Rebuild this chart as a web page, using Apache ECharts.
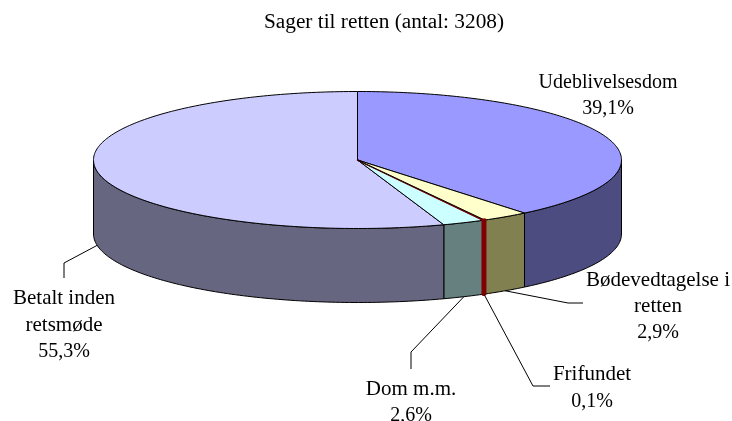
<!DOCTYPE html>
<html>
<head>
<meta charset="utf-8">
<title>Sager til retten</title>
<style>
  html, body { margin: 0; padding: 0; background: #fff; }
  #chart { width: 732px; height: 421px; }
</style>
</head>
<body>
<div id="chart"></div>
<script src="https://cdn.jsdelivr.net/npm/echarts@6/dist/echarts.min.js"></script>
<script>
const categories = ['Udeblivelsesdom', 'Bødevedtagelse i\nretten', 'Frifundet', 'Dom m.m.', 'Betalt inden\nretsmøde']
const shares = [39.1, 2.9, 0.1, 2.6, 55.3]
const shareLabels = ['39,1%', '2,9%', '0,1%', '2,6%', '55,3%']

const topColors = ['#9999ff', '#ffffcc', '#800000', '#ccffff', '#ccccff']
const sideColors = ['#4c4c80', '#808050', '#800000', '#668080', '#666680']
// the 0,1% slice is too thin for a black edge, it is drawn as a red band instead
const edgeColors = ['#000', '#000', '#800000', '#000', '#000']
const wallWidths = [1, 1, 3.5, 1, 1]
const topWidths = [1, 1, 1.5, 1, 1]
const topOrder = [0, 3, 2, 1, 0]
const wallOrder = [0, 0, 5, 0, 0]
const nameSizes = [20, 21, 21, 21, 21]

// label centre + leader line elbow/end, null = no leader
const labelPos = [
  { x: 608, y: 95.5 },
  { x: 658, y: 306.5, knee: [568, 303], end: [583, 303] },
  { x: 592, y: 388, knee: [533, 386], end: [550, 386] },
  { x: 411, y: 402.5, knee: [411, 352], end: [411, 369] },
  { x: 64, y: 325, knee: [64, 263], end: [64, 278] }
]

const CX = 357.5
const CY = 160
const RX = 264
const RY = 68.5
const DEPTH = 74
const FONT = `'Liberation Serif', 'Times New Roman', serif`

const total = shares.reduce((a, b) => a + b, 0)

// t is the ellipse parameter in degrees, 0 = top, clockwise
function rim (t, drop) {
  const r = t * Math.PI / 180
  return [CX + RX * Math.sin(r), CY - RY * Math.cos(r) + (drop || 0)]
}

function arc (from, to, drop) {
  const pts = []
  const n = Math.max(2, Math.ceil(Math.abs(to - from)))
  for (let i = 0; i <= n; i++) {
    pts.push(rim(from + (to - from) * i / n, drop))
  }
  return pts
}

function renderSlice (params, api) {
  const i = params.dataIndex
  const before = shares.slice(0, i).reduce((a, b) => a + b, 0)
  const start = before / total * 360
  const end = (before + api.value(0)) / total * 360
  const mid = (start + end) / 2
  const children = []

  // outer wall, only the front half of the pie can be seen
  const a = Math.max(start, 90)
  const b = Math.min(end, 270)
  if (a < b) {
    children.push({
      type: 'polygon',
      z2: wallOrder[i],
      shape: { points: arc(a, b, 0).concat(arc(b, a, DEPTH)) },
      style: { fill: sideColors[i], stroke: edgeColors[i], lineWidth: wallWidths[i], lineJoin: 'round' }
    })
  }

  children.push({
    type: 'polygon',
    z2: topOrder[i],
    shape: { points: [[CX, CY]].concat(arc(start, end, 0)) },
    style: { fill: topColors[i], stroke: edgeColors[i], lineWidth: topWidths[i], lineJoin: 'round' }
  })

  const pos = labelPos[i]
  if (pos.knee) {
    children.push({
      type: 'polyline',
      z2: 6,
      shape: { points: [rim(mid, DEPTH), pos.knee, pos.end] },
      style: { fill: null, stroke: '#000', lineWidth: 1 }
    })
  }
  const nameLines = categories[i].split('\n').map(s => `{n|${s}}`)
  children.push({
    type: 'text',
    z2: 6,
    x: pos.x,
    y: pos.y,
    style: {
      text: nameLines.concat(`{p|${shareLabels[i]}}`).join('\n'),
      fill: '#000',
      align: 'center',
      verticalAlign: 'middle',
      rich: {
        n: { font: `${nameSizes[i]}px ${FONT}`, lineHeight: 26.5, fill: '#000' },
        p: { font: `20px ${FONT}`, lineHeight: 26.5, fill: '#000' }
      }
    }
  })
  return { type: 'group', children: children }
}

const chart = echarts.init(document.getElementById('chart'), null, { renderer: 'canvas' })
chart.setOption({
  animation: false,
  backgroundColor: '#fff',
  title: {
    text: 'Sager til retten (antal: 3208)',
    left: 379,
    top: 7,
    textAlign: 'center',
    textStyle: { color: '#000', fontWeight: 'normal', fontSize: 21.3, fontFamily: FONT }
  },
  series: [{
    type: 'custom',
    coordinateSystem: 'none',
    silent: true,
    renderItem: renderSlice,
    data: shares.map(v => [v])
  }]
})
</script>
</body>
</html>
